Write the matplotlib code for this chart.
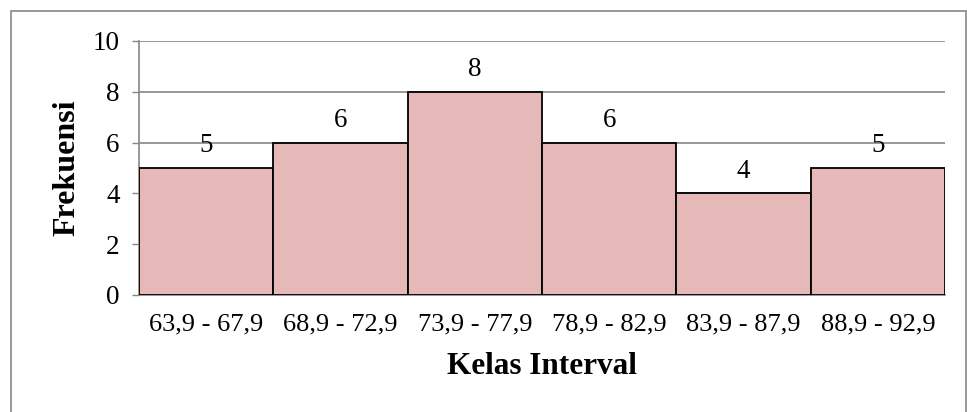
import matplotlib
matplotlib.use("Agg")
import matplotlib.pyplot as plt
from matplotlib.patches import Rectangle

# Frequency table
kelas = ["63,9 - 67,9", "68,9 - 72,9", "73,9 - 77,9", "78,9 - 82,9", "83,9 - 87,9", "88,9 - 92,9"]
frekuensi = [5, 6, 8, 6, 4, 5]
y_ticks = [0, 2, 4, 6, 8, 10]

plt.rcParams["font.family"] = ["Liberation Serif", "DejaVu Serif"]

fig = plt.figure(figsize=(9.67, 4.12), dpi=100)
ax = fig.add_axes([139 / 967, 1 - 295 / 412, (945 - 139) / 967, (295 - 41) / 412])

grey = "#868686"
x = list(range(len(kelas)))
ax.bar(x, frekuensi, width=1.0, color="#E6B8B7", edgecolor="black",
       linewidth=1.3, zorder=3)

for xi, v in zip(x, frekuensi):
    ax.annotate(str(v), (xi, v), xytext=(0, 7), textcoords="offset points",
                ha="center", va="bottom", fontsize=19.5)

ax.set_xlim(-0.5, len(kelas) - 0.5)
ax.set_ylim(0, 10)
ax.set_yticks(y_ticks)
ax.set_xticks(x)
ax.set_xticklabels(kelas)
ax.tick_params(axis="y", labelsize=19.5, length=5, color=grey, width=1, pad=9)
ax.tick_params(axis="x", labelsize=19, length=0, pad=13)

ax.yaxis.grid(True, color=grey, linewidth=1.2, zorder=0)
ax.set_axisbelow(True)
for side in ("top", "right"):
    ax.spines[side].set_visible(False)
for side in ("left", "bottom"):
    ax.spines[side].set_color(grey)
    ax.spines[side].set_linewidth(1.2)

ax.set_ylabel("Frekuensi", fontsize=23, fontweight="bold", labelpad=8)
ax.set_xlabel("Kelas Interval", fontsize=22.5, fontweight="bold", labelpad=12)

# Chart-area frame
fig.patches.append(Rectangle((11 / 967, -0.05), (966 - 11) / 967, 1.05 - 11 / 412,
                             transform=fig.transFigure, fill=False,
                             edgecolor=grey, linewidth=1.2))

fig.savefig("out.png", dpi=100)
